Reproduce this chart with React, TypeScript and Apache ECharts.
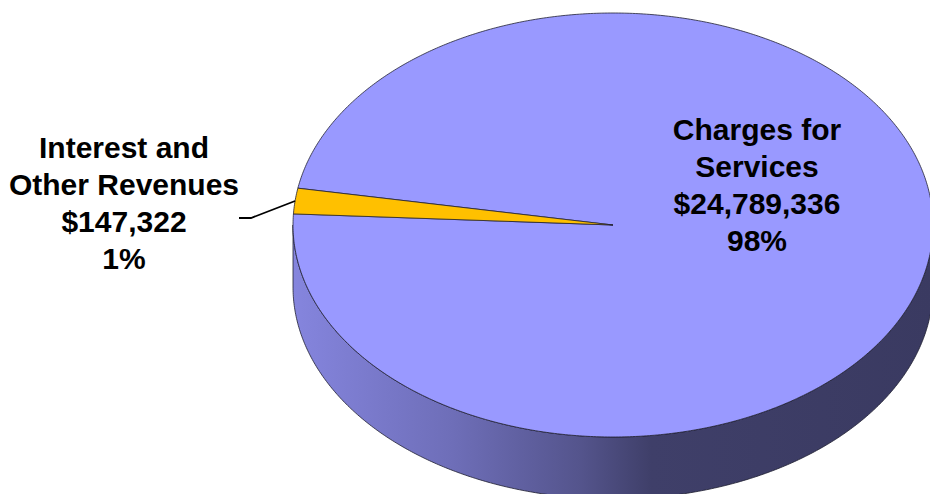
import React, { useEffect, useRef } from "react";
import * as echarts from "echarts";

// ---- data ----
const categories = ["Charges for\nServices", "Interest and\nOther Revenues"];
const values = [24789336, 147322];
const percentLabels = ["98%", "1%"];
const sliceColors = ["#9999ff", "#ffc000"];

// ---- layout (not data) ----
const CX = 613;
const CY = 225;
const RX = 320;
const RY = 212;
const DEPTH = 62;
const START_ANGLE = 170; // math degrees, slices go clockwise
const MIN_ANGLE = 7; // like pie minAngle
const labelLayout = [
  { x: 757, y: 185, leader: null as null | number[][] },
  { x: 124, y: 203, leader: [[239, 218], [251, 218]] },
];
const FONT = "Liberation Sans, Arial, Helvetica, sans-serif";

function computeSpans() {
  const total = values.reduce((a, b) => a + b, 0);
  const small = values.map((v) => (v / total) * 360 < MIN_ANGLE);
  const fixed = small.filter(Boolean).length * MIN_ANGLE;
  const bigTotal = values.reduce((a, v, i) => (small[i] ? a : a + v), 0);
  const spans = values.map((v, i) => (small[i] ? MIN_ANGLE : (v / bigTotal) * (360 - fixed)));
  let a = START_ANGLE;
  return spans.map((s) => {
    const r = { start: a - s, end: a };
    a -= s;
    return r;
  });
}

function pt(deg: number, dy = 0): number[] {
  const t = (deg * Math.PI) / 180;
  return [CX + RX * Math.cos(t), CY - RY * Math.sin(t) + dy];
}

function arc(from: number, to: number, dy = 0): number[][] {
  const pts: number[][] = [];
  const n = Math.max(2, Math.ceil(Math.abs(to - from) / 0.5));
  for (let i = 0; i <= n; i++) pts.push(pt(from + ((to - from) * i) / n, dy));
  return pts;
}

function shade(hex: string, f: number) {
  const c = hex.replace("#", "");
  const r = Math.round(parseInt(c.slice(0, 2), 16) * f);
  const g = Math.round(parseInt(c.slice(2, 4), 16) * f);
  const b = Math.round(parseInt(c.slice(4, 6), 16) * f);
  return `rgb(${r},${g},${b})`;
}

export default function App() {
  const ref = useRef<HTMLDivElement>(null);
  useEffect(() => {
    if (!ref.current) return;
    const chart = echarts.init(ref.current, null, { renderer: "svg" });
    const spans = computeSpans();

    const renderItem = (params: any) => {
      const i = params.dataIndex;
      const { start, end } = spans[i];
      const color = sliceColors[i];
      const children: any[] = [];

      // visible side wall: lower half (math angles in [k*360-180, k*360])
      for (let k = -2; k <= 2; k++) {
        const lo = Math.max(start, k * 360 - 180);
        const hi = Math.min(end, k * 360);
        if (hi - lo > 0.01) {
          const top = arc(lo, hi, 0);
          const bottom = arc(hi, lo, DEPTH);
          children.push({
            type: "polygon",
            shape: { points: top.concat(bottom) },
            style: {
              fill: new echarts.graphic.LinearGradient(
                CX - RX, 0, CX + RX, 0,
                [
                  { offset: 0, color: shade(color, 0.87) },
                  { offset: 0.25, color: shade(color, 0.72) },
                  { offset: 0.45, color: shade(color, 0.55) },
                  { offset: 0.56, color: shade(color, 0.41) },
                  { offset: 1, color: shade(color, 0.38) },
                ],
                true
              ),
              stroke: "#1e1e30",
              lineWidth: 0.8,
            },
          });
        }
      }

      // top face
      children.push({
        type: "polygon",
        shape: { points: [[CX, CY]].concat(arc(end, start, 0)) },
        style: { fill: color, stroke: "#222233", lineWidth: 0.8 },
      });

      // label
      const lay = labelLayout[i];
      const text =
        categories[i] + "\n$" + values[i].toLocaleString("en-US") + "\n" + percentLabels[i];
      if (lay.leader) {
        const anchor = pt((start + end) / 2);
        children.push({
          type: "polyline",
          shape: { points: lay.leader.concat([anchor]) },
          style: { stroke: "#000", lineWidth: 1.8, fill: null },
        });
      }
      children.push({
        type: "text",
        x: lay.x,
        y: lay.y,
        style: {
          text,
          fill: "#000",
          fontSize: 30,
          fontWeight: "bold",
          fontFamily: FONT,
          lineHeight: 37,
          align: "center",
          verticalAlign: "middle",
          textAlign: "center",
          textVerticalAlign: "middle",
        },
      });

      return { type: "group", children };
    };

    chart.setOption({
      animation: false,
      series: [
        {
          type: "custom",
          coordinateSystem: "none",
          silent: true,
          renderItem,
          data: values.map((v, i) => ({ name: categories[i], value: v })),
        },
      ],
    });
    return () => chart.dispose();
  }, []);
  return (
    <div
      ref={ref}
      style={{ position: "absolute", left: 0, top: 0, width: 930, height: 494, background: "#fff" }}
    />
  );
}
